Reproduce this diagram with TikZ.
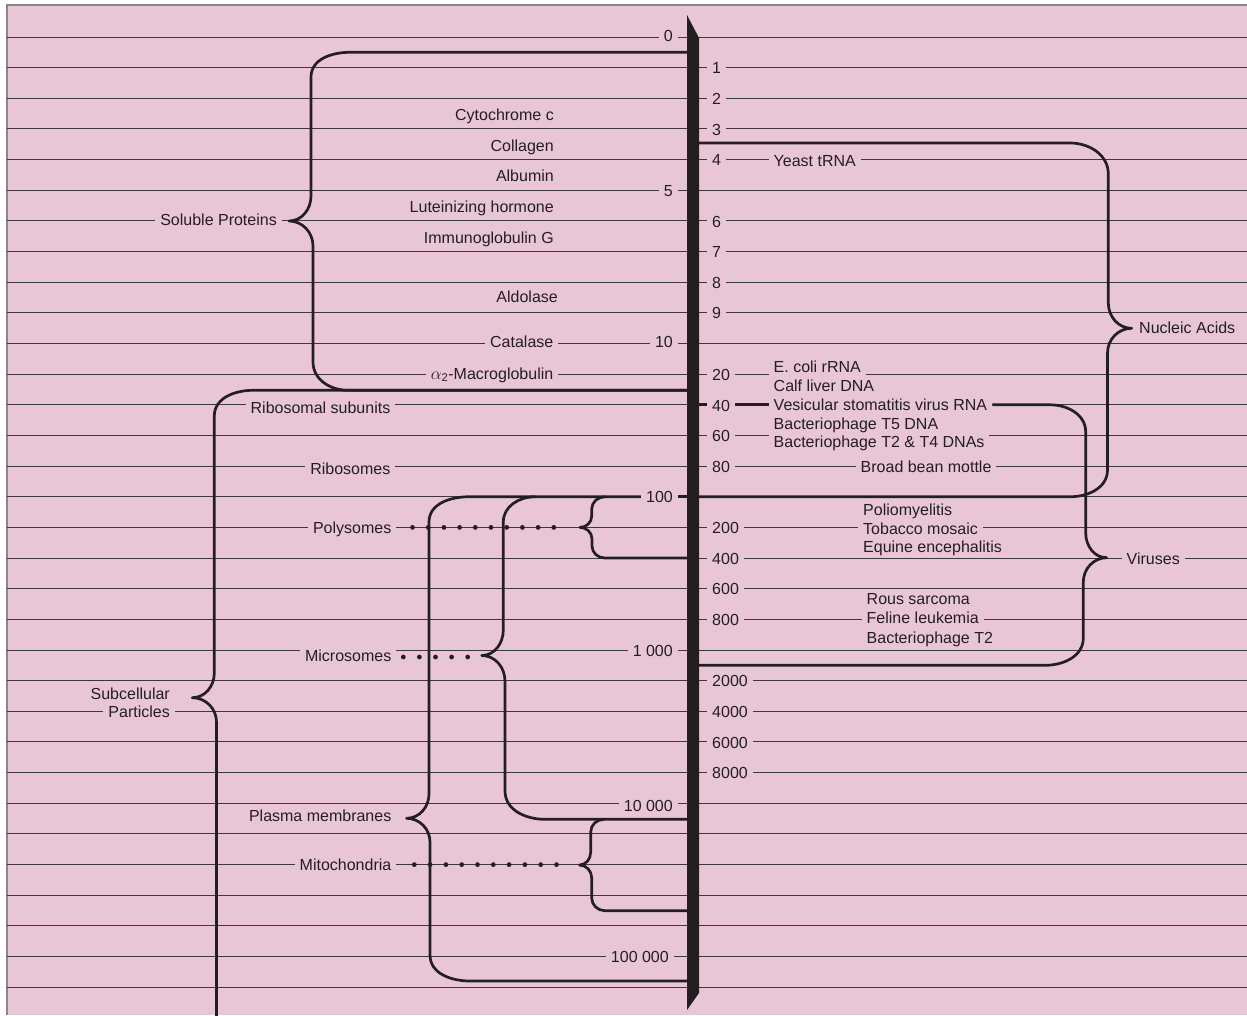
\documentclass[tikz,border=0pt]{standalone}
\usepackage{fontspec}
\setmainfont{Liberation Sans}
\definecolor{bg}{RGB}{232,198,214}
\definecolor{ink}{RGB}{35,31,32}
\definecolor{rulec}{RGB}{62,55,59}
\definecolor{framec}{RGB}{140,134,138}
\begin{document}
\begin{tikzpicture}[x=1pt,y=-1pt,
  ruleline/.style={draw=rulec, line width=1pt},
  conn/.style={draw=ink, line width=2.7pt, line join=round},
  lbl/.style={fill=bg, text=ink, font=\fontsize{16}{18.75}\selectfont, inner xsep=5pt, inner ysep=0.8pt, text height=11.5pt, text depth=3.5pt},
  lbll/.style={lbl, anchor=base east},
  lblr/.style={lbl, anchor=base west},
  dotmark/.style={fill=ink},
]
% background
\path[use as bounding box] (0,0) rectangle (1247,1015);
\fill[white] (0,0) rectangle (1247,1015);
\fill[bg] (7,5) rectangle (1247,1015);
\draw[framec, line width=1.3pt] (7,1015) -- (7,5) -- (1247,5);

% ruled rows
\foreach \k in {0,...,31}{
  \coordinate (r\k) at (0,{37+30.65*\k});
  \draw[ruleline] (7,{37+30.65*\k}) -- (1247,{37+30.65*\k});
}
\coordinate (axW) at (689,0);
\coordinate (axE) at (697,0);

% left scale numbers
\node[lbll] (n0) at (678,41) {0};
\node[lbll] (n5) at (678,196.5) {5};
\node[lbll] (n10) at (678,347) {10};
\node[lbll] (n100) at (678,502.5) {100};
\node[lbll] (n1000) at (678,656) {1 000};
\node[lbll] (n10000) at (678,811) {10 000};
\node[lbll] (n100000) at (674,962.7) {100 000};

% right scale numbers
\node[lblr] (n1) at (707,73.5) {1};
\node[lblr] (n2) at (707,104.3) {2};
\node[lblr] (n3) at (707,135) {3};
\node[lblr] (n4) at (707,165.6) {4};
\node[lblr] (n6) at (707,227) {6};
\node[lblr] (n7) at (707,257.5) {7};
\node[lblr] (n8) at (707,288.2) {8};
\node[lblr] (n9) at (707,318.8) {9};
\node[lblr] (n20) at (707,380) {20};
\node[lblr] (n40) at (707,411) {40};
\node[lblr] (n60) at (707,441.5) {60};
\node[lblr] (n80) at (707,472.1) {80};
\node[lblr] (n200) at (707,533.4) {200};
\node[lblr] (n400) at (707,564) {400};
\node[lblr] (n600) at (707,594.7) {600};
\node[lblr] (n800) at (707,625.3) {800};
\node[lblr] (n2000) at (707,686.6) {2000};
\node[lblr] (n4000) at (707,717.3) {4000};
\node[lblr] (n6000) at (707,748) {6000};
\node[lblr] (n8000) at (707,778.6) {8000};

% left labels
\node[lbll] (cyto) at (559,120) {Cytochrome c};
\node[lbll] (coll) at (559,151) {Collagen};
\node[lbll] (albu) at (559,181.5) {Albumin};
\node[lbll] (lute) at (559,212.5) {Luteinizing hormone};
\node[lbll] (immu) at (559,243.5) {Immunoglobulin G};
\node[lbll] (aldo) at (563,302.5) {Aldolase};
\node[lbll] (cata) at (558.5,347) {Catalase};
\node[lbll] (macro) at (558.5,379) {$\alpha$\textsubscript{2}-Macroglobulin};
\node[lbll] (solp) at (282,225.3) {Soluble Proteins};
\node[lbll] (ribsub) at (395.5,413) {Ribosomal subunits};
\node[lbll] (ribo) at (395.5,474) {Ribosomes};
\node[lbll] (poly) at (396.5,533) {Polysomes};
\node[lbll, text height=13pt] (micro) at (396.5,661.7) {Microsomes};
\node[lbll] (plasma) at (396.5,821.5) {Plasma membranes};
\node[lbll] (mito) at (396.5,870) {Mitochondria};
\node[lbll] (subc) at (175,699.3) {Subcellular};
\node[lbll] (part) at (175,717.7) {Particles};

% right labels
\node[lblr] (yeast) at (768.5,166.7) {Yeast tRNA};
\node[lblr] (ecoli) at (768.5,372.3) {E. coli rRNA};
\node[lblr] (calf) at (768.5,391) {Calf liver DNA};
\node[lblr] (vsv) at (768.5,410) {Vesicular stomatitis virus RNA};
\node[lblr] (tfive) at (768.5,429.3) {Bacteriophage T5 DNA};
\node[lblr, text height=13pt] (ttwofour) at (768.5,447.5) {Bacteriophage T2 \& T4 DNAs};
\node[lblr] (bbm) at (855.5,472.7) {Broad bean mottle};
\node[lblr] (polio) at (858,515.3) {Poliomyelitis};
\node[lblr] (tmv) at (858,534) {Tobacco mosaic};
\node[lblr] (equine) at (858,552.7) {Equine encephalitis};
\node[lblr] (rous) at (861.5,604) {Rous sarcoma};
\node[lblr] (feline) at (861.5,623.3) {Feline leukemia};
\node[lblr] (btwo) at (861.5,643.3) {Bacteriophage T2};
\node[lblr] (nucl) at (1134,333.3) {Nucleic Acids};
\node[lblr] (vir) at (1121.5,564.3) {Viruses};

% brace tips and junctions
\coordinate (spTip) at (289,221);
\coordinate (scTip) at (192.3,697.7);
\coordinate (pmTip) at (406.5,818.3);
\coordinate (msTip) at (481.7,655.5);
\coordinate (psTip) at (580,527.4);
\coordinate (mcTip) at (579.5,865);
\coordinate (naTip) at (1131.7,328.3);
\coordinate (vrTip) at (1106.7,557.7);
\coordinate (msTop) at (535,496.75);
\coordinate (psTop) at (605,496.75);
\coordinate (mcTop) at (604,819.3);

% Soluble proteins
\draw[conn] (axW |- 0,52.3) -- (350,52.3) to[out=180,in=90] (311,77) -- (311,196)
  to[out=-90,in=0] (spTip) to[out=0,in=90] (313,246) -- (313,362)
  to[out=-90,in=180] (348,390.3) -- (axW |- 0,390.3);
% Subcellular particles
\draw[conn] (axW |- 0,390.3) -- (253,390.3) to[out=180,in=90] (214.3,416) -- (214.3,673)
  to[out=-90,in=0] (scTip) to[out=0,in=90] (216.5,722) -- (216.5,1020);
% Plasma membranes
\draw[conn] (n100.east |- r15) -- (axW |- r15);
\draw[conn] (n100.west |- r15) -- (469,496.75) to[out=180,in=90] (429,522) -- (429,794)
  to[out=-90,in=0] (pmTip) to[out=0,in=90] (430,842) -- (430,955)
  to[out=-90,in=180] (470,981) -- (axW |- 0,981);
% Microsomes
\draw[conn] (msTop) to[out=180,in=90] (503.3,522) -- (503.3,630)
  to[out=-90,in=0] (msTip) to[out=0,in=90] (505,681) -- (505,791)
  to[out=-90,in=180] (545,819.3) -- (axW |- 0,819.3);
% Polysomes
\draw[conn] (psTop) to[out=180,in=90] (591.7,509) -- (591.7,516)
  to[out=-90,in=0] (psTip) to[out=0,in=90] (592,539) -- (592,546)
  to[out=-90,in=180] (605,558.05) -- (axW |- r17);
% Mitochondria
\draw[conn] (mcTop) to[out=180,in=90] (590.7,832) -- (590.7,852)
  to[out=-90,in=0] (mcTip) to[out=0,in=90] (591.7,878) -- (591.7,898)
  to[out=-90,in=180] (605,910.7) -- (axW |- 0,910.7);
% Nucleic acids
\draw[conn] (axE |- 0,143) -- (1070,143) to[out=0,in=90] (1108.3,174) -- (1108.3,303)
  to[out=-90,in=180] (naTip) to[out=180,in=90] (1107.5,353) -- (1107.5,470)
  to[out=-90,in=0] (1070,496.75) -- (axE |- r15);
% Viruses
\draw[conn] (axE |- r12) -- (n40.west |- r12);
\draw[conn] (n40.east |- r12) -- (vsv.west |- r12);
\draw[conn] (vsv.east |- r12) -- (1050,404.8) to[out=0,in=90] (1085.7,432) -- (1085.7,533)
  to[out=-90,in=180] (vrTip) to[out=180,in=90] (1083.3,582) -- (1083.3,638)
  to[out=-90,in=0] (1045,665.3) -- (axE |- 0,665.3);

% dotted leaders
\foreach \i in {0,...,9} \fill[dotmark] ({412.5+15.7*\i},527.4) circle (2.4pt);
\foreach \i in {0,...,4} \fill[dotmark] ({403.3+16.1*\i},657) circle (2.4pt);
\foreach \i in {0,...,9} \fill[dotmark] ({414.3+15.8*\i},864.6) circle (2.4pt);

% axis bar
\fill[ink] (687,15) -- (699,38) -- (699,993) -- (687,1010) -- cycle;
\end{tikzpicture}
\end{document}
